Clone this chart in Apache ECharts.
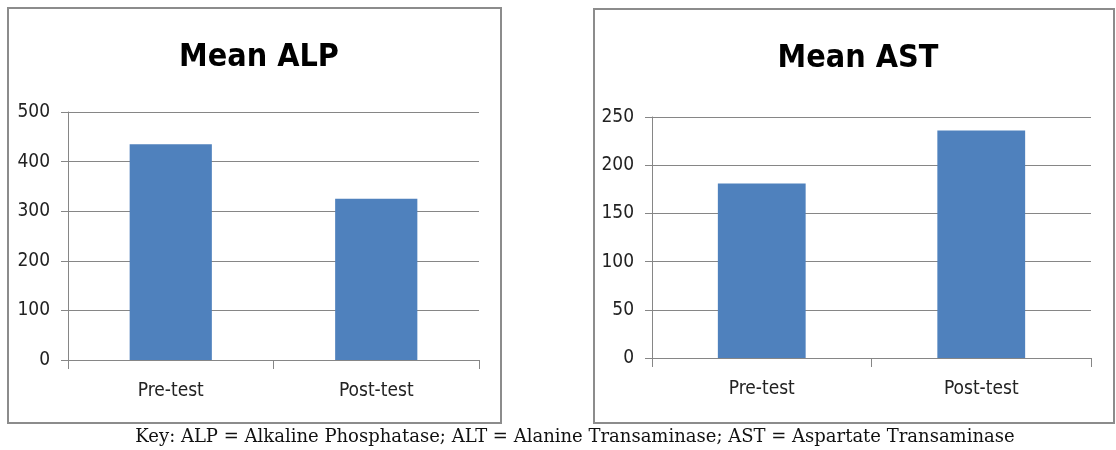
<!DOCTYPE html>
<html><head><meta charset="utf-8">
<script src="https://cdn.jsdelivr.net/npm/echarts@6/dist/echarts.min.js"></script>
<style>html,body{margin:0;padding:0;background:#fff}#c{width:1116px;height:450px}</style>
</head><body><div id="c"></div>
<script>
const categories = ['Pre-test', 'Post-test'];
const alpValues = [435, 325];
const astValues = [181, 236];
const alpTicks = {min: 0, max: 500, interval: 100};
const astTicks = {min: 0, max: 250, interval: 50};
const titles = ['Mean ALP', 'Mean AST'];
const keyText = 'Key: ALP = Alkaline Phosphatase; ALT = Alanine Transaminase; AST = Aspartate Transaminase';

const FONT = '"Liberation Sans Narrow", "DejaVu Sans Condensed", sans-serif';
const grey = '#868686';
const chart = echarts.init(document.getElementById('c'), null, {renderer: 'canvas'});

function xAxis(gi) {
  return {
    type: 'category', gridIndex: gi, data: categories,
    axisLine: {lineStyle: {color: grey, width: 1}},
    axisTick: {show: true, alignWithLabel: false, length: 9, lineStyle: {color: grey}},
    axisLabel: {color: '#222', fontFamily: FONT, fontSize: 19, margin: 22}
  };
}
function yAxis(gi, t) {
  return {
    type: 'value', gridIndex: gi, min: t.min, max: t.max, interval: t.interval,
    axisLine: {show: true, lineStyle: {color: grey, width: 1}},
    axisTick: {show: true, length: 7, lineStyle: {color: grey}},
    splitLine: {show: true, lineStyle: {color: grey, width: 1}},
    axisLabel: {color: '#222', fontFamily: FONT, fontSize: 19, margin: 18}
  };
}
const option = {
  animation: false,
  title: [
    {text: titles[0], left: 254, top: 37, textAlign: 'center',
     textStyle: {fontFamily: FONT, fontWeight: 'bold', fontSize: 32, color: '#000'}},
    {text: titles[1], left: 853, top: 38, textAlign: 'center',
     textStyle: {fontFamily: FONT, fontWeight: 'bold', fontSize: 32, color: '#000'}}
  ],
  grid: [
    {left: 68, right: 637, top: 112, bottom: 90},
    {left: 652, right: 25, top: 117, bottom: 92}
  ],
  xAxis: [xAxis(0), xAxis(1)],
  yAxis: [yAxis(0, alpTicks), yAxis(1, astTicks)],
  series: [
    {type: 'bar', xAxisIndex: 0, yAxisIndex: 0, data: alpValues, barWidth: '40%',
     itemStyle: {color: '#4F81BD'}},
    {type: 'bar', xAxisIndex: 1, yAxisIndex: 1, data: astValues, barWidth: '40%',
     itemStyle: {color: '#4F81BD'}}
  ],
  graphic: [
    {type: 'rect', shape: {x: 8, y: 8, width: 493, height: 415}, z: -1,
     style: {fill: 'none', stroke: '#8c8c8c', lineWidth: 2}},
    {type: 'rect', shape: {x: 594, y: 9, width: 520, height: 414}, z: -1,
     style: {fill: 'none', stroke: '#8c8c8c', lineWidth: 2}},
    {type: 'text', x: 575, y: 437, z: 10,
     style: {text: keyText, fill: '#111', font: '18px "DejaVu Serif", "Liberation Serif", serif',
             textAlign: 'center', textVerticalAlign: 'middle'}}
  ]
};
chart.setOption(option);
</script></body></html>
